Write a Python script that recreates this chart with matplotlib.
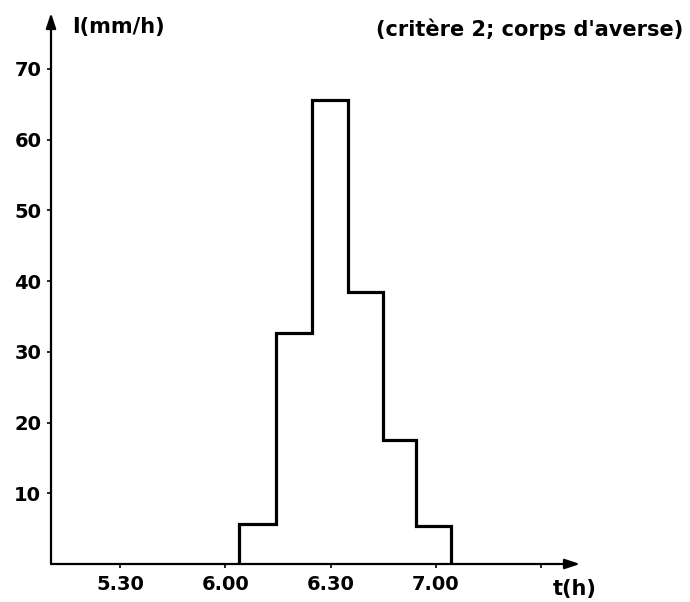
import matplotlib
matplotlib.use("Agg")
import matplotlib.pyplot as plt

# minutes after 5:00
bin_edges = [64, 74.3, 84.8, 95, 104.9, 114.4, 124.3]
intensity = [5.7, 32.7, 65.6, 38.5, 17.5, 5.4]

x_ticks = [30, 60, 90, 120, 150]
x_labels = ["5.30", "6.00", "6.30", "7.00", ""]
y_ticks = [10, 20, 30, 40, 50, 60, 70]

plt.rcParams['font.family'] = ['DejaVu Sans']
plt.rcParams['font.weight'] = 'bold'

W, H = 690, 602
fig = plt.figure(figsize=(W / 100, H / 100), dpi=100)
ax = fig.add_axes([51 / W, (H - 564) / H, (580 - 51) / W, (564 - 13) / H])

xmin, xmax = 10.3, 161.1
ymin, ymax = 0, 77.9
ax.set_xlim(xmin, xmax)
ax.set_ylim(ymin, ymax)
for s in ax.spines.values():
    s.set_visible(False)

ax.stairs(intensity, bin_edges, baseline=0, color="black", lw=2.3)

arrow = dict(arrowstyle="-|>,head_length=0.9,head_width=0.3", color="black", lw=1.6,
             shrinkA=0, shrinkB=0)
ax.annotate("", xy=(xmax, 0), xytext=(xmin, 0), arrowprops=arrow, annotation_clip=False)
ax.annotate("", xy=(xmin, ymax), xytext=(xmin, 0), arrowprops=arrow, annotation_clip=False)

ax.set_xticks(x_ticks)
ax.set_xticklabels(x_labels)
ax.set_yticks(y_ticks)
ax.tick_params(axis="both", direction="out", length=3, width=1.2, labelsize=14, color="black")
ax.tick_params(axis="x", pad=5)
ax.tick_params(axis="y", pad=4)

fig.text(72 / W, 1 - 27 / H, "I(mm/h)", fontsize=15, ha="left", va="center")
fig.text(683 / W, 1 - 29 / H, "(critère 2; corps d'averse)", fontsize=15, ha="right", va="center")
fig.text(575 / W, 1 - 589 / H, "t(h)", fontsize=15, ha="center", va="center")

fig.savefig("out.png", dpi=100)
